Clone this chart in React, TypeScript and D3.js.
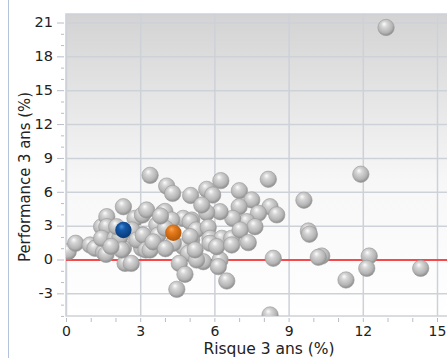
import React from "react";
import * as d3 from "d3";

const riskValues: number[] = [
  0.07, 0.37, 0.95, 1.15, 1.5, 1.6, 1.42, 1.63, 1.63, 1.42, 1.96, 2.3, 2.3, 2.37, 2.62, 2.77, 3.07, 3.07, 3.04, 2.64, 2.84, 2.16, 2.23, 2.03, 1.8,
  3.38, 4.05, 4.29, 5.02, 5.67, 5.91, 6.24, 6.99, 7.49, 8.16, 8.23, 8.5, 7.76, 6.98, 7.29, 7.62, 6.72, 6.21, 5.67, 5.47, 3.24, 3.91, 3.98, 3.65, 3.1,
  3.21, 4.72, 5.06, 5.0, 4.25, 5.24, 5.73, 5.8, 6.28, 6.68, 7.02, 7.35, 5.06, 4.72, 4.93, 4.56, 5.53, 5.26, 6.21, 6.14, 4.79, 4.46, 6.48, 8.36, 8.23,
  4.32, 5.0, 5.8, 6.07, 6.68, 3.38, 5.2, 3.7, 4.0, 3.5, 4.0, 3.8,
  12.92, 11.9, 9.6, 9.78, 9.82, 10.32, 10.18, 12.24, 12.14, 11.3, 14.32,
];
const perfValues: number[] = [
  0.74, 1.48, 1.33, 1.04, 0.7, 0.5, 2.95, 3.84, 2.95, 1.92, 1.92, 4.72, 1.04, -0.3, -0.3, 3.69, 3.99, 2.22, 1.04, 2.66, 1.77, 2.07, 0.89, 2.95, 1.2,
  7.5, 6.55, 5.9, 5.72, 6.26, 5.76, 7.03, 6.14, 5.32, 7.15, 4.72, 4.0, 4.14, 4.72, 3.4, 2.95, 3.69, 4.28, 4.19, 4.87, 4.43, 4.19, 4.3, 3.1, 2.2,
  0.89, 3.69, 3.54, 3.4, 3.54, 2.66, 2.89, 1.92, 1.92, 1.92, 2.66, 1.54, 1.77, 1.18, 0.59, -0.3, -0.15, 0.0, 0.0, -0.59, -1.27, -2.6, -1.86, 0.15, -4.87,
  1.48, 2.07, 1.48, 1.18, 1.33, 0.89, 0.89, 2.2, 2.8, 1.6, 1.0, 3.9,
  20.6, 7.6, 5.3, 2.57, 2.28, 0.35, 0.24, 0.35, -0.74, -1.77, -0.74,
];
const blueFund: [number, number] = [2.3, 2.66];
const orangeFund: [number, number] = [4.32, 2.42];

const xTicks: number[] = [0, 3, 6, 9, 12, 15];
const yTicks: number[] = [-3, 0, 3, 6, 9, 12, 15, 18, 21];
const xTitle = "Risque 3 ans (%)";
const yTitle = "Performance 3 ans (%)";

export default function App() {
  const W = 447, H = 358;
  const plotLeft = 66, plotTop = 14, plotBottom = 316, plotRight = 460;
  const x = d3.scaleLinear().domain([0, 15]).range([66.5, 437.5]);
  const y = d3.scaleLinear().domain([0, 21]).range([260, 23]);
  const yMinor = d3.range(-5, 22, 1);
  const xMinor = d3.range(0, 16, 1);
  const font = "'DejaVu Sans', Verdana, sans-serif";
  const gridColor = "#cdd1d8";
  const r = 8.2;
  const pts = riskValues.map((v, i) => [v, perfValues[i]] as [number, number]);

  return (
    <svg width={W} height={H} style={{ position: "absolute", left: 0, top: 0 }} fontFamily={font}>
      <defs>
        <linearGradient id="bg" x1="0" y1="0" x2="0" y2="1">
          <stop offset="0" stopColor="#d3d3d3" />
          <stop offset="0.55" stopColor="#f7f7f7" />
          <stop offset="1" stopColor="#ffffff" />
        </linearGradient>
        <radialGradient id="ball" cx="0.45" cy="0.4" r="0.6" fx="0.38" fy="0.28">
          <stop offset="0" stopColor="#fdfdfd" />
          <stop offset="0.3" stopColor="#d6d6d6" />
          <stop offset="0.75" stopColor="#b4b4b4" />
          <stop offset="1" stopColor="#8a8a8a" />
        </radialGradient>
        <radialGradient id="blueBall" cx="0.45" cy="0.4" r="0.6" fx="0.38" fy="0.28">
          <stop offset="0" stopColor="#4d8fd8" />
          <stop offset="0.35" stopColor="#1559a8" />
          <stop offset="1" stopColor="#083a78" />
        </radialGradient>
        <radialGradient id="orangeBall" cx="0.45" cy="0.4" r="0.6" fx="0.38" fy="0.28">
          <stop offset="0" stopColor="#f6a55a" />
          <stop offset="0.35" stopColor="#e57a1c" />
          <stop offset="1" stopColor="#b25808" />
        </radialGradient>
        <clipPath id="clip">
          <rect x={plotLeft} y={plotTop} width={plotRight - plotLeft} height={plotBottom - plotTop} />
        </clipPath>
      </defs>
      <line x1={8.5} x2={8.5} y1={0} y2={H} stroke="#b4c3dc" strokeWidth={1} />
      <rect x={plotLeft} y={plotTop} width={plotRight - plotLeft} height={plotBottom - plotTop} fill="url(#bg)" stroke={gridColor} strokeWidth={1.5} />
      {yTicks.map((t) => (
        <line key={"gy" + t} x1={plotLeft} x2={plotRight} y1={y(t)} y2={y(t)} stroke={gridColor} strokeWidth={1.5} />
      ))}
      {xTicks.map((t) => (
        <line key={"gx" + t} x1={x(t)} x2={x(t)} y1={plotTop} y2={plotBottom} stroke={gridColor} strokeWidth={1.5} />
      ))}
      {yMinor.map((t) => (
        <line key={"my" + t} x1={t % 3 === 0 ? 57 : 61} x2={64} y1={y(t)} y2={y(t)} stroke="#b8bcc4" strokeWidth={1} />
      ))}
      {xMinor.map((t) => (
        <line key={"mx" + t} x1={x(t)} x2={x(t)} y1={318} y2={322} stroke="#b8bcc4" strokeWidth={1} />
      ))}
      <line x1={plotLeft} x2={plotRight} y1={y(0)} y2={y(0)} stroke="#ff1a1a" strokeWidth={1.6} />
      <g clipPath="url(#clip)">
        {pts.map((p, i) => (
          <circle key={i} cx={x(p[0])} cy={y(p[1])} r={r} fill="url(#ball)" stroke="#9a9a9a" strokeWidth={0.6} />
        ))}
        <circle cx={x(blueFund[0])} cy={y(blueFund[1])} r={r} fill="url(#blueBall)" />
        <circle cx={x(orangeFund[0])} cy={y(orangeFund[1])} r={r} fill="url(#orangeBall)" />
      </g>
      {yTicks.map((t) => (
        <text key={"ty" + t} x={53} y={y(t)} dy="0.3em" textAnchor="end" fontSize={14.5} fill="#222">{t}</text>
      ))}
      {xTicks.map((t) => (
        <text key={"tx" + t} x={x(t)} y={335.5} textAnchor="middle" fontSize={14} fill="#222">{t}</text>
      ))}
      <text x={269} y={353.5} textAnchor="middle" fontSize={15.5} fill="#222">{xTitle}</text>
      <text transform="translate(30,177) rotate(-90)" textAnchor="middle" fontSize={15} fill="#222" textLength={170} lengthAdjust="spacingAndGlyphs">{yTitle}</text>
    </svg>
  );
}
